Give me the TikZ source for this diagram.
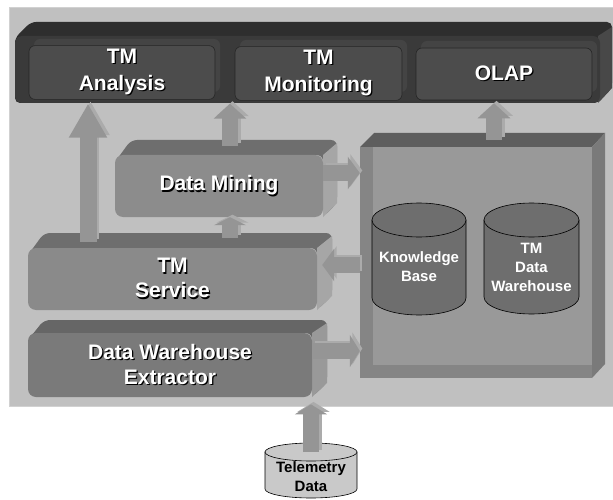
\documentclass[tikz,border=0pt]{standalone}
\usepackage{fontspec}
\setmainfont{Liberation Sans}
\usetikzlibrary{arrows.meta, positioning}
\definecolor{panelgray}{HTML}{C0C0C0}
\definecolor{barback}{HTML}{2E2E2E}
\definecolor{barfront}{HTML}{3A3A3A}
\definecolor{barside}{HTML}{484848}
\definecolor{ghostgray}{HTML}{444444}
\definecolor{btngray}{HTML}{4C4C4C}
\definecolor{toptone}{HTML}{6E6E6E}
\definecolor{sidetone}{HTML}{A6A6A6}
\definecolor{arrowgray}{HTML}{959595}
\definecolor{arrowlight}{HTML}{ABABAB}
\newcommand\shad[1]{\leavevmode\rlap{\kern1.3pt\raisebox{-1.3pt}{\color{black}#1}}#1}

\begin{document}
\begin{tikzpicture}[x=1pt, y=-1pt,
        panel/.style={draw=black!18, fill=panelgray, line width=0.8pt},
        appbox/.style={draw=black!85, fill=btngray, rounded corners=6pt, line width=0.6pt,
            text=white, align=center, font=\bfseries\fontsize{21}{27}\selectfont},
        block/.style={rounded corners=8pt, text=white, align=center,
            font=\bfseries\fontsize{21}{25}\selectfont},
        dbbody/.style={draw=black, line width=0.6pt},
        dblabel/.style={align=center, inner sep=0pt, font=\bfseries\fontsize{15}{19}\selectfont},
        fat/.style={line width=16pt, draw=arrowgray, -{Triangle[length=#1, width=32pt]},
            preaction={draw=arrowlight, line width=16pt, -{Triangle[length=#1, width=32pt]},
                transform canvas={shift={(2.5pt,2.5pt)}}}},
        fat/.default=12pt]
    \useasboundingbox (0,0) rectangle (613,500);

    % outer panel
    \node[panel, minimum width=606pt, minimum height=399pt] (frame) at (312,206.5) {};

    % application bar
    \fill[barback, rounded corners=5pt] (15,103) -- (15,38) -- (31,22) -- (612,22) -- (612,88) -- (598,103) -- cycle;
    \fill[barside] (598,36) -- (612,27) -- (612,88) -- (598,103) -- cycle;
    \fill[barfront, rounded corners=7pt] (15,36) rectangle (600,103);
    \fill[ghostgray, rounded corners=6pt] (34,39) rectangle (220,92);
    \fill[ghostgray, rounded corners=6pt] (240,40) rectangle (407,92);
    \fill[ghostgray, rounded corners=6pt] (421,41) rectangle (597,92);
    \node[appbox, minimum width=186pt, minimum height=53pt] (analysis) at (122,72.5) {\shad{TM}\\\shad{Analysis}};
    \node[appbox, minimum width=167pt, minimum height=53pt] (monitoring) at (318.5,73.5) {\shad{TM}\\\shad{Monitoring}};
    \node[appbox, minimum width=176pt, minimum height=52pt] (olap) at (504,74) {\shad{OLAP}};

    % data mining
    \fill[toptone, rounded corners=6pt] (115,162) -- (131,140) -- (337,140) -- (337,203) -- (323,217) -- (323,155) -- cycle;
    \fill[sidetone] (323,155) -- (337,143) -- (337,203) -- (323,217) -- cycle;
    \node[block, fill=black!45, minimum width=208pt, minimum height=62pt] (mining) at (219,186) {\shad{Data Mining}};

    % tm service
    \fill[toptone, rounded corners=6pt] (28,255) -- (44,233) -- (332,233) -- (332,296) -- (317,310) -- (317,248) -- cycle;
    \fill[sidetone] (317,248) -- (332,236) -- (332,296) -- (317,310) -- cycle;
    \node[block, fill=black!46, minimum width=289pt, minimum height=62pt] (service) at (172.5,279) {\shad{TM}\\\shad{Service}};

    % extractor
    \fill[black!60, rounded corners=6pt] (28,340) -- (44,320) -- (327,320) -- (327,383) -- (312,397) -- (312,333) -- cycle;
    \fill[black!40] (312,333) -- (327,323) -- (327,383) -- (312,397) -- cycle;
    \node[block, fill=black!52, minimum width=284pt, minimum height=64pt] (extractor) at (170,365) {\shad{Data Warehouse}\\\shad{Extractor}};

    % storage box
    \fill[black!63] (360,147) -- (374,133) -- (605,133) -- (592,147) -- cycle;
    \fill[black!52] (592,147) -- (605,133) -- (605,364) -- (592,378) -- cycle;
    \node[fill=black!48, minimum width=232pt, minimum height=231pt] (store) at (476,262.5) {};
    \fill[black!40] (373,147) rectangle (592,365);

    % cylinders
    \filldraw[dbbody, fill=black!57] (372,220) -- (372,298) arc[start angle=180, end angle=360, x radius=47pt, y radius=17pt] -- (466,220) -- cycle;
    \filldraw[dbbody, fill=black!57] (419,220) ellipse[x radius=47pt, y radius=17pt];
    \node[dblabel, text=white] (kbase) at (419,267) {Knowledge\\Base};
    \filldraw[dbbody, fill=black!57] (484,220) -- (484,297) arc[start angle=180, end angle=360, x radius=47.5pt, y radius=17pt] -- (579,220) -- cycle;
    \filldraw[dbbody, fill=black!57] (531.5,220) ellipse[x radius=47.5pt, y radius=17pt];
    \node[dblabel, text=white] (tmdw) at (531.5,267) {TM\\Data\\Warehouse};

    % telemetry source
    \filldraw[dbbody, fill=black!21] (265,452) -- (265,489) arc[start angle=180, end angle=360, x radius=46pt, y radius=9pt] -- (357,452) -- cycle;
    \filldraw[dbbody, fill=black!21] (311,452) ellipse[x radius=46pt, y radius=9pt];
    \node[dblabel] (telemetry) at (311,476.5) {Telemetry\\Data};
    \coordinate (teltop) at (311,452);

    % connectors
    \draw[line width=17pt, draw=arrowgray, -{Triangle[length=34pt, width=36pt]},
        preaction={draw=arrowlight, line width=17pt, -{Triangle[length=34pt, width=36pt]},
            transform canvas={shift={(2.5pt,2.5pt)}}}, shorten <=6pt, shorten >=4pt]
        (service.north -| 88,0) -- (analysis.south -| 88,0);
    \draw[fat=15pt, shorten <=9pt, shorten >=3pt] (mining.north -| 230,0) -- (monitoring.south -| 230,0);
    \draw[fat=8pt, shorten <=10pt] (service.north -| 230,0) -- (mining.south -| 230,0);
    \draw[fat] (mining.east |- 0,173) -- (store.west |- 0,173);
    \draw[fat, shorten >=5pt] (store.west |- 0,265) -- (service.east |- 0,265);
    \draw[fat=10pt] (extractor.east |- 0,351) -- (store.west |- 0,351);
    \draw[fat=15pt, shorten <=7pt, shorten >=3pt] (store.north -| 494,0) -- (olap.south -| 494,0);
    \draw[fat=10pt, shorten >=-2pt] (teltop) -- (frame.south -| teltop);
\end{tikzpicture}
\end{document}
